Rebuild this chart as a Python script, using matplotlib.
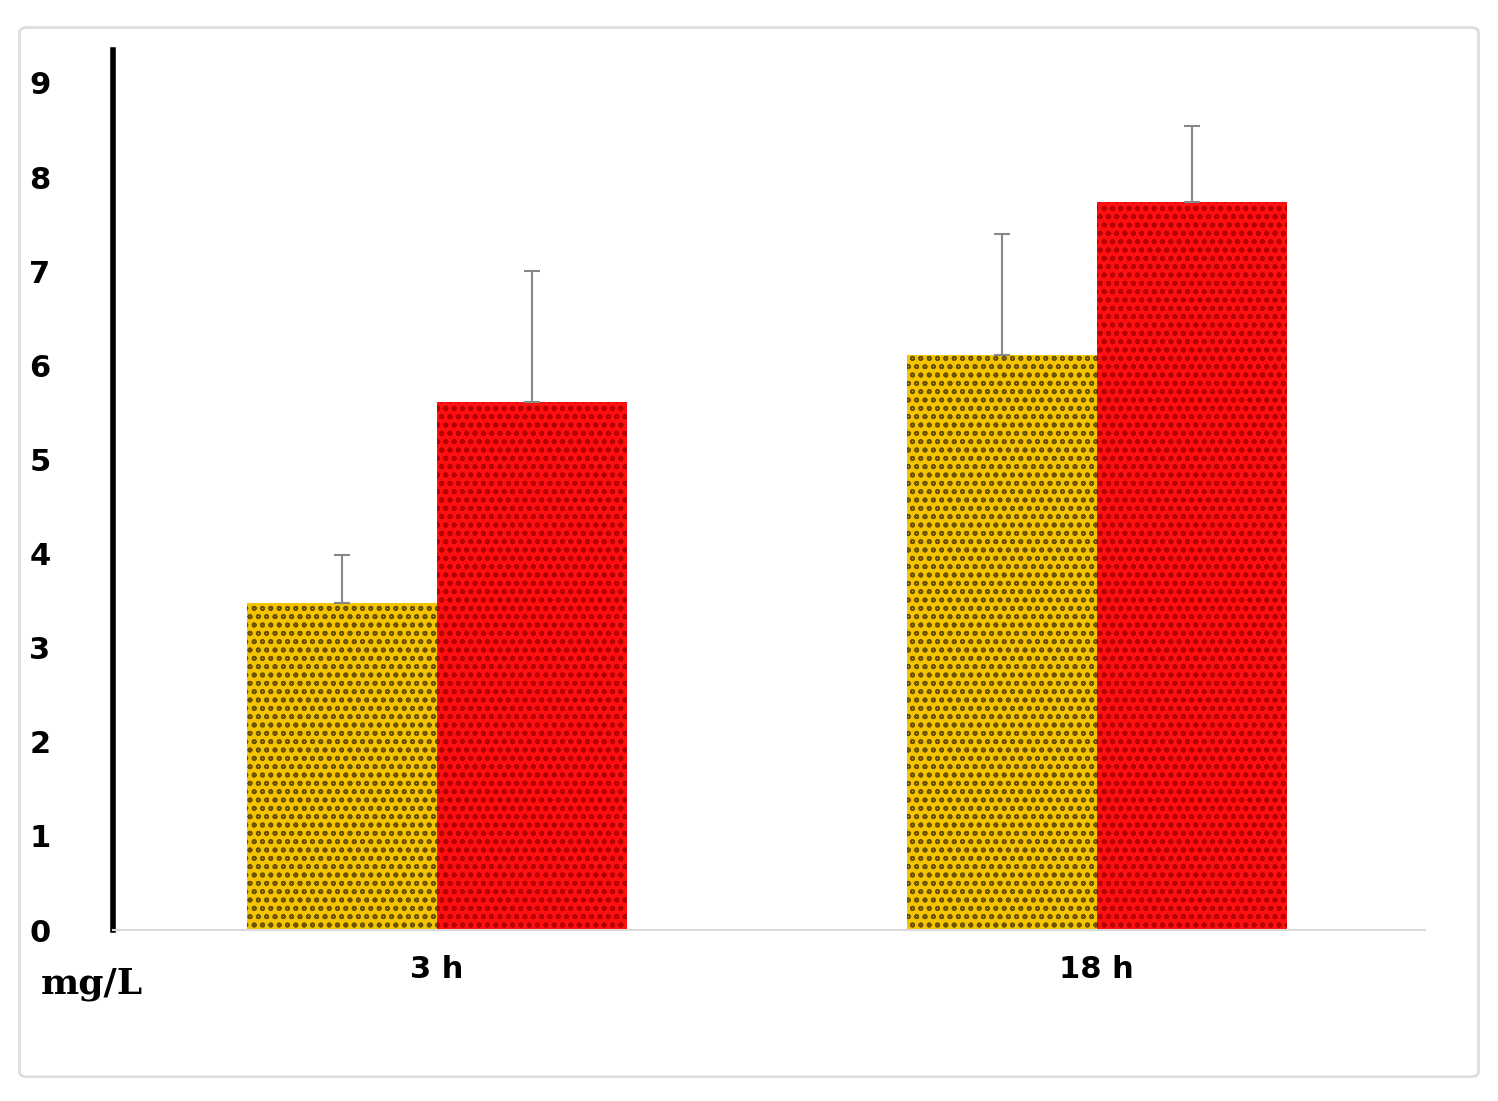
import matplotlib
matplotlib.use("Agg")
import matplotlib.pyplot as plt
from matplotlib.patches import FancyBboxPatch

groups = ["3 h", "18 h"]
yellow_vals = [3.47, 6.11]
yellow_err = [0.51, 1.28]
red_vals = [5.61, 7.74]
red_err = [1.39, 0.80]
yticks = list(range(10))

plt.rcParams["hatch.linewidth"] = 1.2
fig = plt.figure(figsize=(14.98, 11.01), dpi=100)
frame = FancyBboxPatch((0.013, 0.022), 0.974, 0.953, boxstyle="round,pad=0,rounding_size=0.005",
                       transform=fig.transFigure, fc="white", ec="#dddddd", lw=2, zorder=-10)
fig.patches.append(frame)
ax = fig.add_axes([0.0754, 0.1553, 0.8756, 0.7993])
ax.set_zorder(5)
ax.patch.set_alpha(0)

x = [0, 1]
w = 0.288
ax.bar([i - w / 2 for i in x], yellow_vals, w, color="#f5c400", hatch="oo", edgecolor="#6b5200", lw=0)
ax.bar([i + w / 2 for i in x], red_vals, w, color="#ff1010", hatch="oo", edgecolor="#b00000", lw=0)
ax.errorbar([i - w / 2 for i in x], yellow_vals, yerr=[[0, 0], yellow_err], fmt="none",
            ecolor="#888888", capsize=6, elinewidth=1.5, capthick=1.5)
ax.errorbar([i + w / 2 for i in x], red_vals, yerr=[[0, 0], red_err], fmt="none",
            ecolor="#888888", capsize=6, elinewidth=1.5, capthick=1.5)

ax.set_xlim(-0.491, 1.497)
ax.set_ylim(0, 9.35)
ax.set_yticks(yticks)
ax.set_yticklabels([str(t) for t in yticks], fontsize=22, fontweight="bold")
ax.set_xticks(x)
ax.set_xticklabels(groups, fontsize=22, fontweight="bold")
ax.tick_params(axis="both", length=0, pad=18)
ax.tick_params(axis="y", pad=45)
ax.spines["top"].set_visible(False)
ax.spines["right"].set_visible(False)
ax.spines["left"].set_linewidth(4)
ax.spines["bottom"].set_color("#d9d9d9")
ax.spines["bottom"].set_linewidth(1.5)
fig.text(0.027, 0.098, "mg/L", fontsize=26, fontweight="bold", family="DejaVu Serif")

fig.savefig("out.png", dpi=100)
